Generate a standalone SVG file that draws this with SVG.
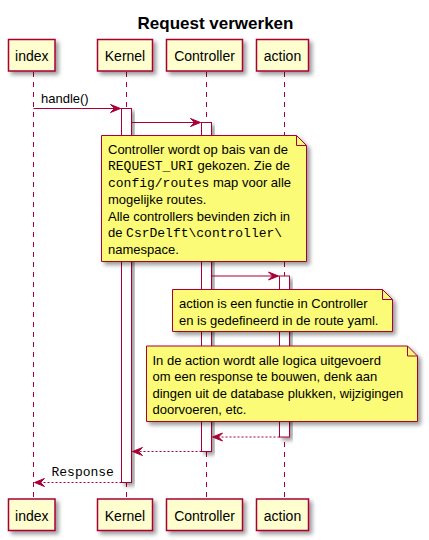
<svg xmlns="http://www.w3.org/2000/svg" width="429" height="540" viewBox="0 0 429 540">
<defs>
<filter id="sh" x="-20%" y="-20%" width="150%" height="150%">
<feGaussianBlur in="SourceAlpha" stdDeviation="2"/>
<feOffset dx="3" dy="3" result="b"/>
<feComponentTransfer><feFuncA type="linear" slope="0.4"/></feComponentTransfer>
<feMerge><feMergeNode/><feMergeNode in="SourceGraphic"/></feMerge>
</filter>
<marker id="ah" markerUnits="userSpaceOnUse" markerWidth="12" markerHeight="10" refX="10" refY="4" orient="auto" overflow="visible">
<path d="M0,0 L10,4 L0,8 L4,4 Z" fill="#A80036" stroke="#A80036" stroke-width="1"/>
</marker>
</defs>
<style>
text{font-family:"Liberation Sans",Arial,sans-serif;fill:#000}
.p rect{fill:#FEFECE;stroke:#A80036;stroke-width:1.5;filter:url(#sh)}
.p text{font-size:14px;text-anchor:middle}
.life{stroke:#A80036;stroke-width:1;stroke-dasharray:5,5}
.act{fill:#FFFFFF;stroke:#A80036;stroke-width:1;filter:url(#sh)}
.note path.b{fill:#FBFB77;stroke:#A80036;stroke-width:1;filter:url(#sh)}
.note path.f{fill:none;stroke:#A80036;stroke-width:1}
.note text{font-size:13px}
.m{font-family:"Liberation Mono","Courier New",monospace}
.msg{stroke:#A80036;stroke-width:1;fill:none;marker-end:url(#ah)}
.ret{stroke-dasharray:2,2}
.lbl{font-size:13px}
</style>
<rect width="429" height="540" fill="#FFFFFF"/>
<text x="215.5" y="29" font-size="17" font-weight="bold" text-anchor="middle">Request verwerken</text>
<g id="lifelines">
<line class="life" x1="33.5" y1="72" x2="33.5" y2="499"/>
<line class="life" x1="126.5" y1="72" x2="126.5" y2="499"/>
<line class="life" x1="206.5" y1="72" x2="206.5" y2="499"/>
<line class="life" x1="284.5" y1="72" x2="284.5" y2="499"/>
</g>
<g id="index" class="p">
<rect x="8.5" y="39.5" width="46.5" height="31.5"/>
<text x="31.75" y="61">index</text>
<rect x="8.5" y="499" width="46.5" height="31.5"/>
<text x="31.75" y="520.5">index</text>
</g>
<g id="Kernel" class="p">
<rect x="97.5" y="39.5" width="55" height="31.5"/>
<text x="125" y="61">Kernel</text>
<rect x="97.5" y="499" width="55" height="31.5"/>
<text x="125" y="520.5">Kernel</text>
</g>
<g id="Controller" class="p">
<rect x="166.5" y="39.5" width="76" height="31.5"/>
<text x="204.5" y="61">Controller</text>
<rect x="166.5" y="499" width="76" height="31.5"/>
<text x="204.5" y="520.5">Controller</text>
</g>
<g id="action" class="p">
<rect x="256.5" y="39.5" width="52" height="31.5"/>
<text x="282.5" y="61">action</text>
<rect x="256.5" y="499" width="52" height="31.5"/>
<text x="282.5" y="520.5">action</text>
</g>
<g id="activations">
<rect class="act" x="121.5" y="108.5" width="10" height="374"/>
<rect class="act" x="201.5" y="122.5" width="10" height="329"/>
<rect class="act" x="279.5" y="276" width="10" height="161"/>
</g>
<g id="connectors">
<line class="msg" x1="33.5" y1="108.5" x2="120.5" y2="108.5"/>
<text class="lbl" x="41" y="103">handle()</text>
<line class="msg" x1="131.5" y1="122.5" x2="200.5" y2="122.5"/>
<line class="msg" x1="211.5" y1="276" x2="278.5" y2="276"/>
<line class="msg ret" x1="279.5" y1="437" x2="212.5" y2="437"/>
<line class="msg ret" x1="201.5" y1="451.5" x2="132.5" y2="451.5"/>
<line class="msg ret" x1="121.5" y1="482.5" x2="34.5" y2="482.5"/>
<text class="lbl m" x="51.5" y="475.5">Response</text>
</g>
<g id="note1" class="note">
<path class="b" d="M101.5,135.5 L296.5,135.5 L306.5,145.5 L306.5,261.5 L101.5,261.5 Z"/>
<path class="f" d="M296.5,135.5 L296.5,145.5 L306.5,145.5"/>
<text x="108" y="154.3">Controller wordt op bais van de</text>
<text x="108" y="169.5"><tspan class="m">REQUEST_URI</tspan> gekozen. Zie de</text>
<text x="108" y="187.3"><tspan class="m">config/routes</tspan> map voor alle</text>
<text x="108" y="204">mogelijke routes.</text>
<text x="108" y="220.7">Alle controllers bevinden zich in</text>
<text x="108" y="237.3">de <tspan class="m">CsrDelft\controller\</tspan></text>
<text x="108" y="254">namespace.</text>
</g>
<g id="note2" class="note">
<path class="b" d="M172.5,289.5 L382.5,289.5 L392.5,299.5 L392.5,331.5 L172.5,331.5 Z"/>
<path class="f" d="M382.5,289.5 L382.5,299.5 L392.5,299.5"/>
<text x="179" y="307.7">action is een functie in Controller</text>
<text x="179" y="325">en is gedefineerd in de route yaml.</text>
</g>
<g id="note3" class="note">
<path class="b" d="M146.5,346 L407.5,346 L417.5,356 L417.5,421.5 L146.5,421.5 Z"/>
<path class="f" d="M407.5,346 L407.5,356 L417.5,356"/>
<text x="152.5" y="364.5">In de action wordt alle logica uitgevoerd</text>
<text x="152.5" y="381">om een response te bouwen, denk aan</text>
<text x="152.5" y="397.5">dingen uit de database plukken, wijzigingen</text>
<text x="152.5" y="414">doorvoeren, etc.</text>
</g>
</svg>
